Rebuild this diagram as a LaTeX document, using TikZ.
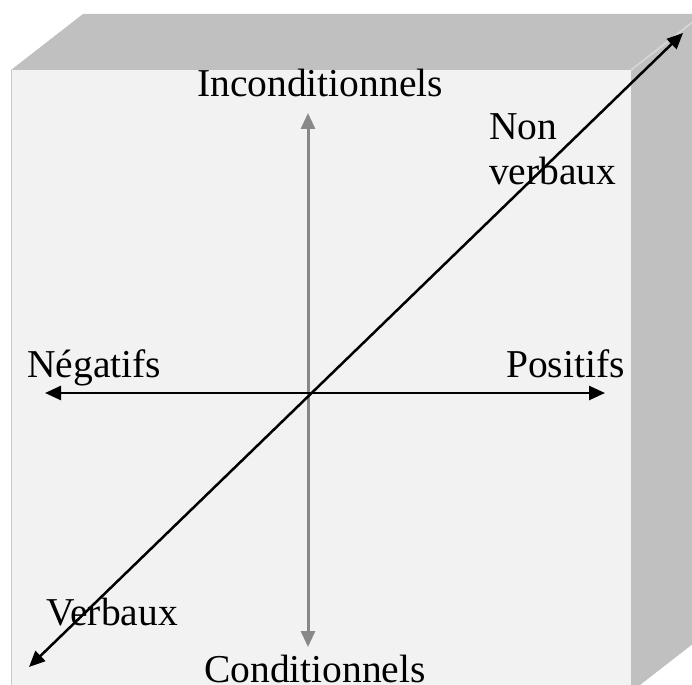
\documentclass[tikz,border=0pt]{standalone}
\usepackage{fontspec}
\setmainfont{Liberation Serif}
\usetikzlibrary{arrows.meta}
\definecolor{frontgray}{HTML}{F2F2F2}
\definecolor{sidegray}{HTML}{C0C0C0}
\definecolor{edgegray}{HTML}{C8C8C8}
\definecolor{axisgray}{HTML}{888888}
\tikzset{
  lbl/.style={inner sep=0pt, anchor=base west, font=\fontsize{39.5}{45}\selectfont},
  axisarrow/.style={line width=2.5pt, {Triangle[length=16pt,width=14pt]}-{Triangle[length=16pt,width=14pt]}},
}
\begin{document}
\begin{tikzpicture}[x=1pt,y=-1pt]
\useasboundingbox (0,0) rectangle (692,684);
\clip (0,0) rectangle (692,684);
% box faces
\fill[sidegray] (11,70) -- (83,14) -- (703,14) -- (631,70) -- cycle;
\fill[sidegray] (631,70) -- (703,14) -- (703,636) -- (631,692) -- cycle;
\fill[frontgray] (11,70) rectangle (631,692);
\draw[edgegray, line width=1.5pt] (11.5,70) -- (11.5,692);
\draw[edgegray!70!white, line width=1.5pt] (631,70) -- (703,14);
% axis endpoints
\coordinate (vtop) at (308,113);
\coordinate (vbot) at (308,647);
\coordinate (hl) at (45,393);
\coordinate (hr) at (605,393);
\coordinate (dl) at (29,667);
\coordinate (dr) at (683,33);
% arrows
\draw[axisarrow, axisgray, line width=3pt] (vbot) -- (vtop);
\draw[axisarrow, black] (hl) -- (hr);
\draw[axisarrow, black] (dl) -- (dr);
% labels
\node[lbl] (incond) at (197,97) {Inconditionnels};
\node[lbl] (cond) at (204,682) {Conditionnels};
\node[lbl] (neg) at (27,377) {Négatifs};
\node[lbl] (pos) at (506,377) {Positifs};
\node[lbl] (non) at (489,140) {Non};
\node[lbl] (nverb) at (489,185) {verbaux};
\node[lbl] (verb) at (46,625) {Verbaux};
\end{tikzpicture}
\end{document}
